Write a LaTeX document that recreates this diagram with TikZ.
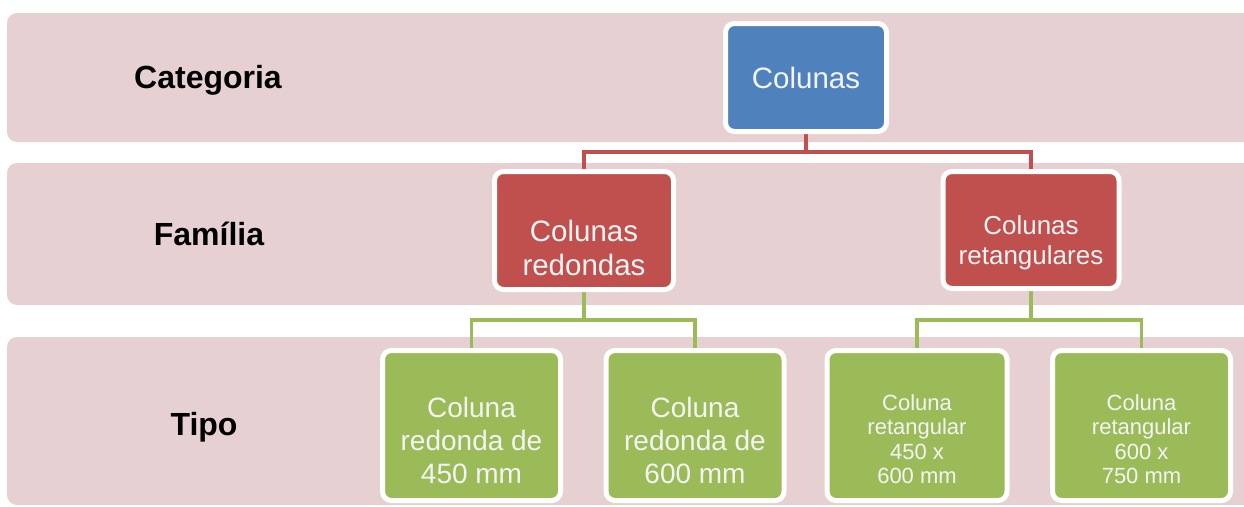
\documentclass[tikz,border=0pt]{standalone}
\usepackage{fontspec}
\setmainfont{Liberation Sans}
\definecolor{band}{HTML}{E7D0D1}
\definecolor{cblue}{HTML}{4F81BD}
\definecolor{cred}{HTML}{C0504D}
\definecolor{cgreen}{HTML}{9BBB59}
\definecolor{btext}{HTML}{F4F4F4}
\pgfdeclarelayer{bg}
\pgfdeclarelayer{conn}
\pgfsetlayers{bg,conn,main}
\begin{document}
\begin{tikzpicture}[x=1pt,y=-1pt,
  box/.style={draw=white, line width=5pt, rounded corners=9pt, inner sep=0pt},
  boxtext/.style={text=btext, align=center, inner sep=0pt},
  catlabel/.style={font=\fontsize{32}{36}\selectfont\bfseries, text=black},
  redline/.style={draw=cred, line width=3.5pt},
  greenline/.style={draw=cgreen, line width=3.5pt},
  bandstyle/.style={fill=band, rounded corners=10pt}]
\useasboundingbox (0,0) rectangle (1244,506);
\clip (0,0) rectangle (1244,506);

% category labels
\node[catlabel] (cat) at (208,80) {Categoria};
\node[catlabel] (fam) at (209,234) {Família};
\node[catlabel] (tip) at (204,427) {Tipo};

% boxes
\node[box, fill=cblue, minimum width=161pt, minimum height=108pt,
  label={[name=colt, boxtext, font=\fontsize{29.5}{34}\selectfont]center:Colunas}] (col) at (806,77.5) {};

\node[box, fill=cred, minimum width=179pt, minimum height=118pt,
  label={[name=fam1t, boxtext, yshift=-17pt, font=\fontsize{29.5}{34}\selectfont]center:{Colunas\\redondas}}] (fam1) at (584,230.5) {};
\node[box, fill=cred, minimum width=176pt, minimum height=117pt,
  label={[name=fam2t, boxtext, yshift=-13pt, font=\fontsize{26}{30}\selectfont]center:{Colunas\\retangulares}}] (fam2) at (1031,230) {};

\node[box, fill=cgreen, minimum width=178pt, minimum height=150pt,
  label={[name=t1t, boxtext, yshift=-15pt, font=\fontsize{28}{33}\selectfont]center:{Coluna\\redonda de\\450 mm}}] (t1) at (471.5,425.5) {};
\node[box, fill=cgreen, minimum width=178pt, minimum height=150pt,
  label={[name=t2t, boxtext, yshift=-15pt, font=\fontsize{28}{33}\selectfont]center:{Coluna\\redonda de\\600 mm}}] (t2) at (695,425.5) {};
\node[box, fill=cgreen, minimum width=180pt, minimum height=150pt,
  label={[name=t3t, boxtext, yshift=-13.5pt, font=\fontsize{22}{24.5}\selectfont]center:{Coluna\\retangular\\450 x\\600 mm}}] (t3) at (917,425.5) {};
\node[box, fill=cgreen, minimum width=178pt, minimum height=150pt,
  label={[name=t4t, boxtext, yshift=-13.5pt, font=\fontsize{22}{24.5}\selectfont]center:{Coluna\\retangular\\600 x\\750 mm}}] (t4) at (1141.5,425.5) {};

\coordinate (rj) at (806,152);
\coordinate (gj1) at (584,320);
\coordinate (gj2) at (1031,320);

\begin{pgfonlayer}{bg}
  \fill[bandstyle] (7,13) rectangle (1280,142);
  \fill[bandstyle] (7,163) rectangle (1280,305);
  \fill[bandstyle] (7,337) rectangle (1280,505);
\end{pgfonlayer}

\begin{pgfonlayer}{conn}
  \draw[redline] (col.south) -- (rj) -| (fam1.north);
  \draw[redline] (rj) -| (fam2.north);
  \draw[greenline] (fam1.south) -- (gj1) -| (t1.north);
  \draw[greenline] (gj1) -| (t2.north);
  \draw[greenline] (fam2.south) -- (gj2) -| (t3.north);
  \draw[greenline] (gj2) -| (t4.north);
\end{pgfonlayer}
\end{tikzpicture}
\end{document}
